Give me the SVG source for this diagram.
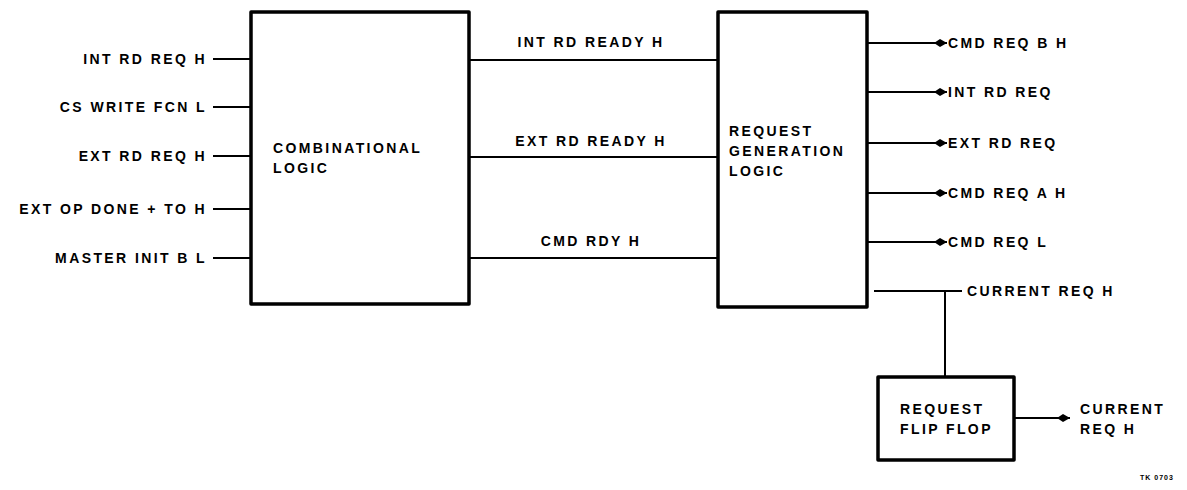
<svg xmlns="http://www.w3.org/2000/svg" width="1187" height="490" viewBox="0 0 1187 490">
<defs>
<style>
.box{fill:none;stroke:#000;stroke-width:3.5;stroke-linejoin:round}
.ln{fill:none;stroke:#000;stroke-width:2}
text{font-family:"Liberation Sans",Arial,sans-serif;font-weight:bold;font-size:14px;fill:#000;letter-spacing:2.4px}
.r{text-anchor:end}
.m{text-anchor:middle}
.tiny{font-size:7px;letter-spacing:1px}
</style>
<marker id="ah" markerWidth="14" markerHeight="10" refX="13" refY="5" orient="auto" markerUnits="userSpaceOnUse">
<path d="M0,5 L6,1 L13,5 L6,9 Z" fill="#000"/>
</marker>
</defs>
<rect width="1187" height="490" fill="#fff"/>
<g id="combinational-logic">
<rect class="box" x="251" y="12" width="218" height="292"/>
<text x="273" y="153">COMBINATIONAL</text>
<text x="273" y="173">LOGIC</text>
</g>
<g id="request-generation-logic">
<rect class="box" x="718" y="12" width="149" height="295"/>
<text x="729" y="136">REQUEST</text>
<text x="729" y="156">GENERATION</text>
<text x="729" y="176">LOGIC</text>
</g>
<g id="request-flip-flop">
<rect class="box" x="878" y="377" width="136" height="83"/>
<text x="900" y="414">REQUEST</text>
<text x="900" y="434">FLIP FLOP</text>
</g>
<g id="inputs">
<text class="r" x="207" y="64">INT RD REQ H</text>
<text class="r" x="207" y="112">CS WRITE FCN L</text>
<text class="r" x="207" y="161">EXT RD REQ H</text>
<text class="r" x="207" y="214">EXT OP DONE + TO H</text>
<text class="r" x="207" y="263">MASTER INIT B L</text>
</g>
<g id="outputs">
<text x="948" y="48">CMD REQ B H</text>
<text x="948" y="97">INT RD REQ</text>
<text x="948" y="148">EXT RD REQ</text>
<text x="948" y="198">CMD REQ A H</text>
<text x="948" y="247">CMD REQ L</text>
<text x="967" y="296">CURRENT REQ H</text>
<text x="1080" y="414">CURRENT</text>
<text x="1080" y="434">REQ H</text>
<text class="tiny" x="1140" y="480">TK 0703</text>
</g>
<g id="connectors">
<path class="ln" d="M213,59 H251 M213,107 H251 M213,156 H251 M213,209 H251 M213,258 H251"/>
<path class="ln" d="M469,60 H718 M469,157 H718 M469,258 H718"/>
<text class="m" x="591" y="47">INT RD READY H</text>
<text class="m" x="591" y="146">EXT RD READY H</text>
<text class="m" x="591" y="246">CMD RDY H</text>
<path class="ln" marker-end="url(#ah)" d="M867,43 H947"/>
<path class="ln" marker-end="url(#ah)" d="M867,92 H947"/>
<path class="ln" marker-end="url(#ah)" d="M867,143 H947"/>
<path class="ln" marker-end="url(#ah)" d="M867,193 H947"/>
<path class="ln" marker-end="url(#ah)" d="M867,242 H947"/>
<path class="ln" d="M874,291 H962 M945,291 V377"/>
<path class="ln" marker-end="url(#ah)" d="M1014,418 H1070"/>
</g>
</svg>
